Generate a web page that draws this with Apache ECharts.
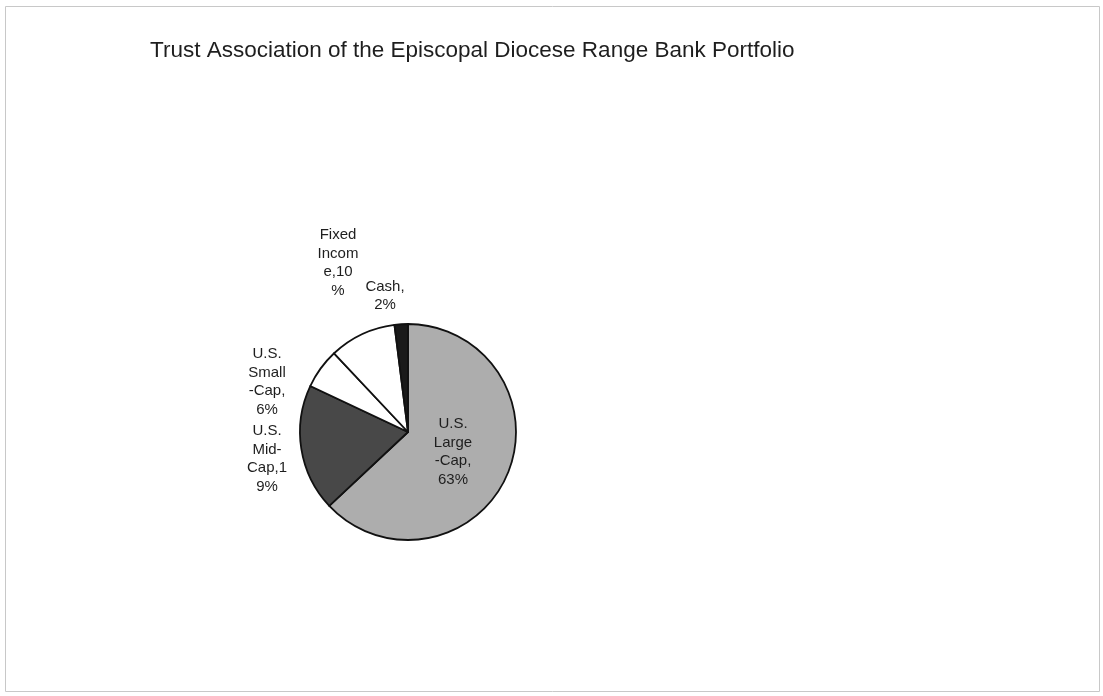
<!DOCTYPE html>
<html><head><meta charset="utf-8">
<script src="https://cdn.jsdelivr.net/npm/echarts@6/dist/echarts.min.js"></script>
<style>html,body{margin:0;padding:0;background:#fff}#c{width:1103px;height:696px}</style>
</head><body><div id="c"></div>
<script>
const categories = ['U.S. Large-Cap', 'U.S. Mid-Cap', 'U.S. Small-Cap', 'Fixed Income', 'Cash'];
const values = [63, 19, 6, 10, 2];
const labelTexts = ['U.S.\nLarge\n-Cap,\n63%', 'U.S.\nMid-\nCap,1\n9%', 'U.S.\nSmall\n-Cap,\n6%', 'Fixed\nIncom\ne,10\n%', 'Cash,\n2%'];
const colors = ['#adadad', '#484848', '#ffffff', '#ffffff', '#1a1a1a'];
// label offsets relative to pie centre (style only)
const labelOffsets = [[45, 20], [-141, 27], [-141, -50], [-70, -169], [-23, -136]];
const CX = 408, CY = 432, R = 108;

const chart = echarts.init(document.getElementById('c'));
chart.setOption({
  backgroundColor: '#fff',
  animation: false,
  title: {
    text: 'Trust Association of the Episcopal Diocese Range Bank Portfolio',
    left: 145, top: 34,
    textStyle: {fontFamily: 'Liberation Sans, Arial', fontSize: 22.5, fontWeight: 'normal', color: '#1e1e1e'}
  },
  graphic: [{
    type: 'rect', shape: {x: 5.5, y: 6.5, width: 1094, height: 685},
    style: {fill: 'none', stroke: '#c8c8c8', lineWidth: 1}, silent: true
  }],
  series: [{
    type: 'pie',
    center: [CX, CY],
    radius: R,
    startAngle: 90,
    clockwise: true,
    avoidLabelOverlap: false,
    itemStyle: {borderColor: '#111', borderWidth: 1.8},
    label: {
      show: true,
      position: 'outside',
      fontFamily: 'Liberation Sans, Arial',
      fontSize: 15,
      lineHeight: 18.5,
      color: '#1e1e1e',
      align: 'center',
      formatter: p => labelTexts[p.dataIndex]
    },
    labelLine: {show: false},
    labelLayout: p => ({
      x: CX + labelOffsets[p.dataIndex][0],
      y: CY + labelOffsets[p.dataIndex][1],
      align: 'center',
      verticalAlign: 'middle'
    }),
    emphasis: {disabled: true},
    data: categories.map((n, i) => ({name: n, value: values[i], itemStyle: {color: colors[i]}}))
  }]
});
</script></body></html>
